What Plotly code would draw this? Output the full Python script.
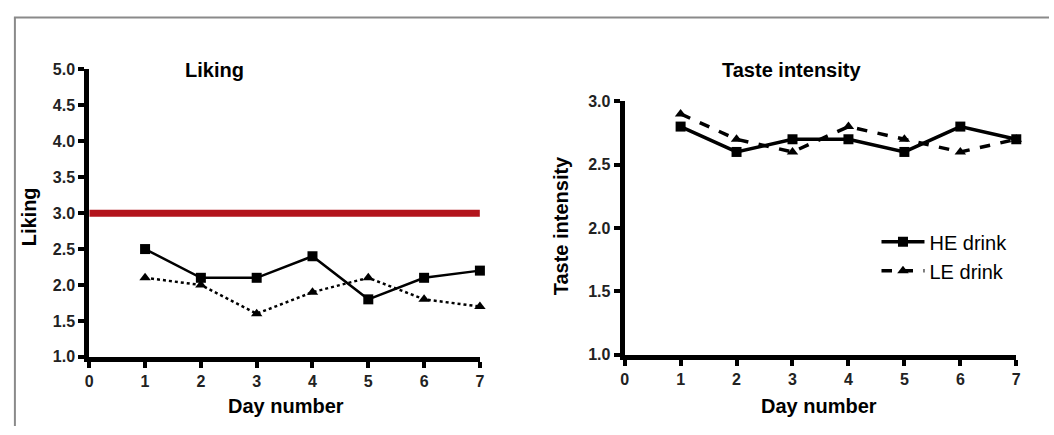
import plotly.graph_objects as go

days = [1, 2, 3, 4, 5, 6, 7]
liking_he = [2.5, 2.1, 2.1, 2.4, 1.8, 2.1, 2.2]
liking_le = [2.1, 2.0, 1.6, 1.9, 2.1, 1.8, 1.7]
ref_x = [0, 7]
ref_y = [3.0, 3.0]
taste_he = [2.8, 2.6, 2.7, 2.7, 2.6, 2.8, 2.7]
taste_le = [2.9, 2.7, 2.6, 2.8, 2.7, 2.6, 2.7]
x_ticks = [0, 1, 2, 3, 4, 5, 6, 7]
liking_ticks = [1.0, 1.5, 2.0, 2.5, 3.0, 3.5, 4.0, 4.5, 5.0]
taste_ticks = [1.0, 1.5, 2.0, 2.5, 3.0]

W, H = 1054, 435
FONT = "Liberation Sans, Arial, sans-serif"

def px(x):
    return x / W

def py(y):
    return 1 - y / H

fig = go.Figure()

fig.add_trace(go.Scatter(x=ref_x, y=ref_y, mode="lines",
                         line=dict(color="#b3141c", width=7),
                         showlegend=False, xaxis="x", yaxis="y", cliponaxis=False))
fig.add_trace(go.Scatter(x=days, y=liking_he, mode="lines+markers",
                         line=dict(color="black", width=2.5),
                         marker=dict(symbol="square", size=10, color="black"),
                         showlegend=False, xaxis="x", yaxis="y", cliponaxis=False))
fig.add_trace(go.Scatter(x=days, y=liking_le, mode="lines+markers",
                         line=dict(color="black", width=2.5, dash="dot"),
                         marker=dict(symbol="triangle-up", size=10, color="black"),
                         showlegend=False, xaxis="x", yaxis="y", cliponaxis=False))

fig.add_trace(go.Scatter(x=days, y=taste_he, mode="lines+markers", name="HE drink",
                         line=dict(color="black", width=3.5),
                         marker=dict(symbol="square", size=10, color="black"),
                         xaxis="x2", yaxis="y2", cliponaxis=False))
fig.add_trace(go.Scatter(x=days, y=taste_le, mode="lines+markers", name="LE drink",
                         line=dict(color="black", width=3.5, dash="dash"),
                         marker=dict(symbol="triangle-up", size=10, color="black"),
                         xaxis="x2", yaxis="y2", cliponaxis=False))

tickfont = dict(family=FONT, size=16, color="#222", weight="bold")
axis_common = dict(showline=True, linecolor="black", linewidth=5, ticks="outside",
                   ticklen=6, tickwidth=4, tickcolor="black", showgrid=False,
                   zeroline=False, tickfont=tickfont, fixedrange=True)

fig.update_layout(
    width=W, height=H,
    margin=dict(l=0, r=0, t=0, b=0),
    paper_bgcolor="white", plot_bgcolor="white",
    font=dict(family=FONT, color="black"),
    xaxis=dict(domain=[px(86), px(480)], range=[0, 7], tickvals=x_ticks,
               anchor="y", **axis_common),
    yaxis=dict(domain=[py(363), py(64)], range=[1, 5], tickvals=liking_ticks,
               tickformat=".1f", anchor="x", **axis_common),
    xaxis2=dict(domain=[px(626), px(1021)], range=[0, 7], tickvals=x_ticks,
                anchor="y2", **axis_common),
    yaxis2=dict(domain=[py(361), py(97)], range=[1, 3], tickvals=taste_ticks,
                tickformat=".1f", anchor="x2", **axis_common),
    legend=dict(x=px(880), y=py(223), xanchor="left", yanchor="top",
                font=dict(family=FONT, size=20, color="black"),
                bgcolor="rgba(0,0,0,0)", itemwidth=43, tracegroupgap=0),
    showlegend=True,
)

bold = dict(family=FONT, size=20, color="black", weight="bold")
annots = [
    dict(text="Liking", x=px(212), y=py(65), font=bold),
    dict(text="Taste intensity", x=px(794), y=py(65), font=bold),
    dict(text="Day number", x=px(284), y=py(414), font=bold),
    dict(text="Day number", x=px(822), y=py(414), font=bold),
    dict(text="Liking", x=px(25), y=py(217), font=bold, textangle=-90),
    dict(text="Taste intensity", x=px(562), y=py(227), font=bold, textangle=-90),
]
for a in annots:
    fig.add_annotation(xref="paper", yref="paper", showarrow=False,
                       xanchor="center", yanchor="middle", **a)

fig.add_shape(type="line", xref="paper", yref="paper",
              x0=px(10), x1=1, y0=py(10), y1=py(10), line=dict(color="#8a8a8a", width=2))
fig.add_shape(type="line", xref="paper", yref="paper",
              x0=px(11), x1=px(11), y0=py(10), y1=0, line=dict(color="#8a8a8a", width=2))

fig.write_html("out.html", config={"displayModeBar": False},
               post_script="document.body.style.margin='0';document.body.style.overflow='hidden';")
